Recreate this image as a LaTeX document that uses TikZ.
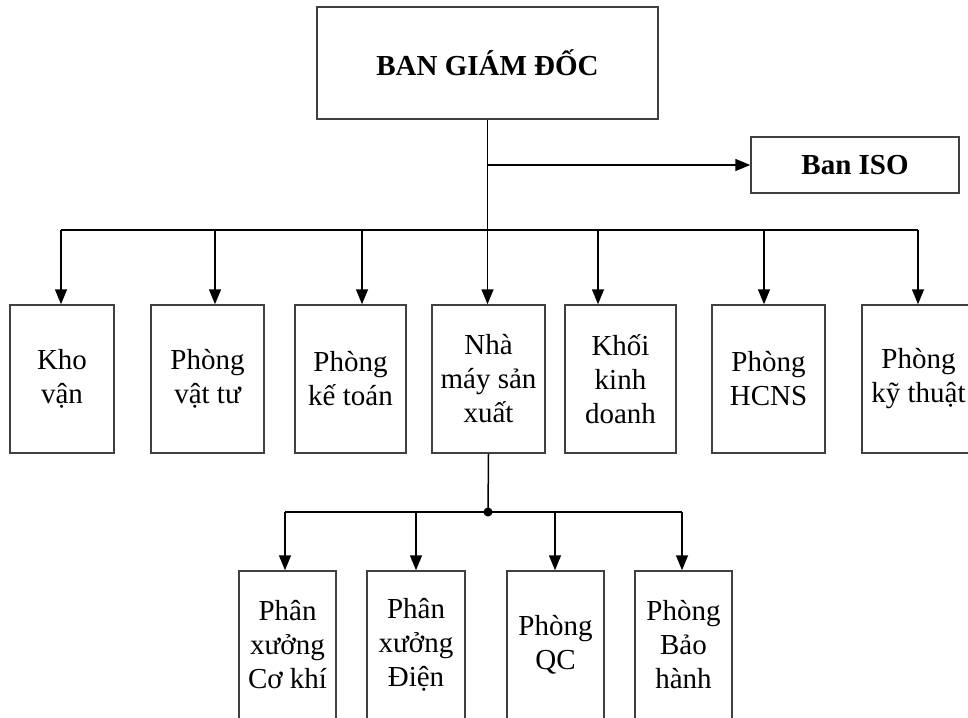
\documentclass[tikz,border=0pt]{standalone}
\usepackage{fontspec}
\setmainfont{Liberation Serif}
\usetikzlibrary{arrows.meta}

\tikzset{
  box/.style={draw=black!75, line width=1.5pt, inner sep=0pt, align=center,
    minimum height=148, font=\fontsize{29}{34}\selectfont},
  head/.style={box, font=\fontsize{29}{34}\selectfont\bfseries},
  link/.style={line width=1.5pt, draw=black},
  arr/.style={link, -{Triangle[length=15pt,width=12pt]}},
}

\begin{document}
\begin{tikzpicture}[x=1pt,y=-1pt]
    \useasboundingbox (0,0) rectangle (968,717);
    % top level
    \node[head, minimum width=341, minimum height=112] (bgd) at (487.5,63) {BAN GIÁM ĐỐC};
    \node[head, minimum width=208, minimum height=56] (iso) at (855,165) {Ban ISO};
    % departments
    \node[box, minimum width=104] (kho)     at (62,379)    {Kho\\vận};
    \node[box, minimum width=113] (vattu)   at (207.5,379) {Phòng\\vật tư};
    \node[box, minimum width=111] (ketoan)  at (350.5,379) {Phòng\\kế toán};
    \node[box, minimum width=113] (nhamay)  at (488.5,379) {Nhà\\máy sản\\xuất};
    \node[box, minimum width=111] (khoi)    at (620.5,379) {Khối\\kinh\\doanh};
    \node[box, minimum width=113] (hcns)    at (768.5,379) {Phòng\\HCNS};
    \node[box, minimum width=113] (kythuat) at (918.5,379) {Phòng\\kỹ thuật};
    % workshops
    \node[box, minimum width=97] (cokhi)   at (287.5,645) {Phân\\xưởng\\Cơ khí};
    \node[box, minimum width=98] (dien)    at (416,645)   {Phân\\xưởng\\Điện};
    \node[box, minimum width=97] (qc)      at (555.5,645) {Phòng\\QC};
    \node[box, minimum width=97] (baohanh) at (683.5,645) {Phòng\\Bảo\\hành};

    \coordinate (bl) at (61,230);  \coordinate (br) at (918,230);
    \coordinate (dot) at (488,512);
    \coordinate (dl) at (285,512); \coordinate (dr) at (682,512);

    \draw[arr] (bgd.south |- iso.west) -- (iso.west);
    \draw[arr] (bgd.south) -- (bgd.south |- nhamay.north);
    \draw[link] (bl) -- (br);
    \foreach \n/\x in {kho/61, vattu/215, ketoan/362, khoi/598, hcns/764, kythuat/918}{
        \coordinate (a\n) at (\x,230);
        \draw[arr] (a\n) -- (a\n |- \n.north);
    }
    \draw[link] (nhamay.south) -- (dot);
    \draw[link] (dl) -- (dr);
    \fill (dot) circle (4.5);
    \foreach \n/\x in {cokhi/285, dien/416, qc/555, baohanh/682}{
        \coordinate (b\n) at (\x,512);
        \draw[arr] (b\n) -- (b\n |- \n.north);
    }
\end{tikzpicture}
\end{document}
